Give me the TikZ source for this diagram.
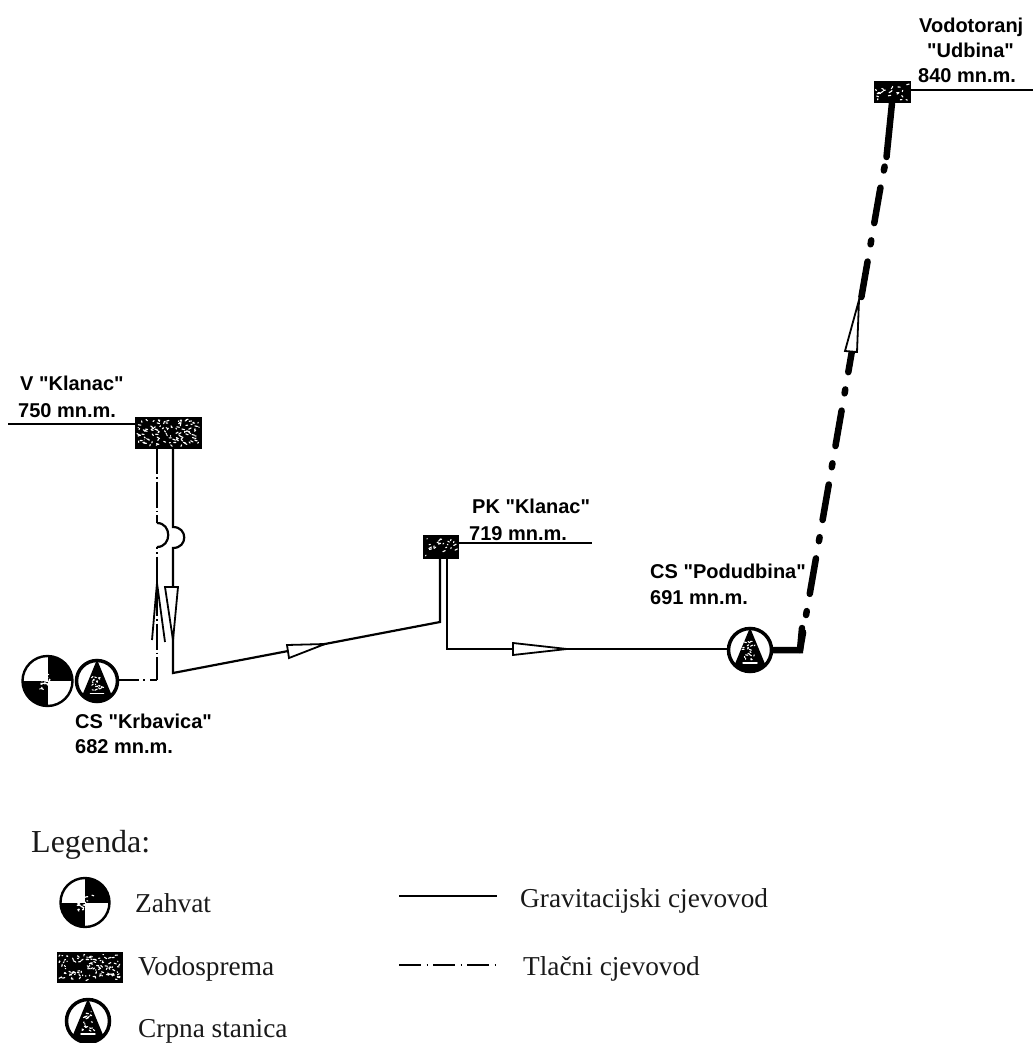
\documentclass[tikz,border=0pt]{standalone}
\usepackage{fontspec}
\setmainfont{Liberation Serif}
\newfontfamily\labfont{Liberation Sans}
\pgfmathsetseed{4242}
% white flecks scattered in a w x h area centred on the origin
\newcommand{\flecks}[3]{%
  \foreach \fidx in {1,...,#3}{%
    \pgfmathsetmacro\fxx{rand*(#1)/2}%
    \pgfmathsetmacro\fyy{rand*(#2)/2}%
    \pgfmathsetmacro\fuu{rand*2.6}%
    \pgfmathsetmacro\fvv{rand*1.6}%
    \draw[white,line width=1.1pt,line cap=round] (\fxx,\fyy) -- ++(\fuu,\fvv);
  }}
\tikzset{
  lab/.style={font=\labfont\bfseries\fontsize{20}{24}\selectfont,anchor=base west,inner sep=0pt},
  leg/.style={font=\fontsize{27.3}{32}\selectfont,anchor=base west,inner sep=0pt,text=black!90},
  pipe/.style={draw=black,line width=2.2pt,line join=miter},
  press/.style={draw=black,line width=2.2pt,dash pattern=on 26pt off 3pt on 1.5pt off 3pt},
  thickpipe/.style={draw=black,line width=6.5pt,line cap=round},
  thickdash/.style={thickpipe,dash pattern=on 36pt off 17.5pt on 4pt off 17.5pt},
  level/.style={draw=black,line width=1.6pt},
  flow/.style={draw=black,line width=1.8pt,fill=white,line join=miter},
  tank/.style n args={3}{rectangle,fill=black,draw=black,line width=1pt,inner sep=0pt,
    minimum width=#1pt,minimum height=#2pt,path picture={
      \begin{scope}[shift={(path picture bounding box.center)}]
        \flecks{#1-4}{#2-5}{#3}
      \end{scope}}},
  pump/.style={circle,draw=black,line width=3.5pt,fill=white,inner sep=0pt,minimum size=#1 pt,
    path picture={
      \begin{scope}[shift={(path picture bounding box.center)},x=#1pt/44,y=-#1pt/44]
        \fill[black] (0,-23) -- (-19,23) -- (19,23) -- cycle;
        \fill[black] (-23,13) rectangle (23,23);
        \begin{scope}[shift={(1,-1)}] \flecks{12}{20}{20} \end{scope}
        \draw[white,line width=1.8pt,line cap=round] (-7,13.5) -- (7,13.5);
      \end{scope}}},
  intake/.style={circle,draw=black,line width=2.4pt,fill=white,inner sep=0pt,minimum size=#1 pt,
    path picture={
      \begin{scope}[shift={(path picture bounding box.center)},x=#1pt/50,y=-#1pt/50]
        \fill[black] (0,0) rectangle (26,-26);
        \fill[black] (0,0) rectangle (-26,26);
        \begin{scope}[shift={(12,-12)}] \flecks{16}{16}{16} \end{scope}
        \begin{scope}[shift={(-12,12)}] \flecks{16}{16}{16} \end{scope}
      \end{scope}}},
}
\begin{document}
\begin{tikzpicture}[x=1pt,y=-1pt]
\useasboundingbox (0,0) rectangle (1033,1043);
\fill[white] (0,0) rectangle (1033,1043);

% tanks
\node[tank={66}{31}{110}] (vk) at (168,432.5) {};
\node[tank={35}{23}{22}] (pk) at (440.5,546.5) {};
\node[tank={36}{21}{22}] (vu) at (892,92.5) {};

% stations
\node[intake=50] (zk) at (47.5,681) {};
\node[pump=41] (csk) at (97,681) {};
\node[pump=43] (csp) at (750,650) {};

% level lines
\coordinate (lv) at (8,424);
\coordinate (lp) at (592,543);
\coordinate (lu) at (1033,90);
\draw[level] (lv) -- (lv-|vk.west);
\draw[level] (pk.east|-lp) -- (lp);
\draw[level] (vu.east|-lu) -- (lu);

% pipes Krbavica - Klanac
\coordinate (a1) at (157,448);
\coordinate (a2) at (157,523);
\coordinate (a3) at (157,547);
\coordinate (a4) at (157,680);
\coordinate (b1) at (173,448);
\coordinate (b2) at (173,527);
\coordinate (b3) at (173,548);
\coordinate (j) at (173,673);
\coordinate (c1) at (440,622);
\coordinate (c2) at (440,558);
\coordinate (d1) at (447,558);
\coordinate (d2) at (447,649);

\draw[press] (a1) -- (a2);
\draw[pipe] (a2) .. controls (172,523) and (172,547) .. (a3);
\draw[press,dash phase=24pt] (a3) -- (a4);
\draw[press,dash pattern=on 20pt off 4pt on 2pt off 5pt] (csk.east|-a4) -- (a4);

\draw[pipe] (b1) -- (b2) .. controls (188,527) and (188,548) .. (b3) -- (j) -- (c1) -- (c2);
\draw[pipe] (d1) -- (d2) -- (csp.west|-d2);

% flow arrows
\draw[draw=black,line width=1.8pt] (152,640) -- (157,583) -- (165,642);
\draw[flow] (165,587) -- (178,587) -- (173,640) -- cycle;
\draw[flow] (287,645) -- (325,644) -- (289,658) -- cycle;
\draw[flow] (513,643) -- (567,649) -- (513,655) -- cycle;

% pressure main Podudbina - Udbina
\coordinate (e) at (800,650);
\coordinate (m) at (853,345);
\coordinate (n) at (861.4,297);
\coordinate (f) at (880,190);
\coordinate (g) at (886.5,157);
\coordinate (h) at (892,103);
\draw[thickpipe] (csp.east) -- (e) -- (802,628);
\draw[thickdash,dash phase=18pt] (e) -- (m);
\draw[thickdash] (n) -- (f) -- (g);
\draw[thickpipe] (g) -- (h);
\draw[flow] (859,300) -- (845,351) -- (857,352) -- cycle;

% labels
\node[lab] (t1) at (20,390) {V "Klanac"};
\node[lab] (t2) at (18,417) {750 mn.m.};
\node[lab] (t3) at (75,728) {CS "Krbavica"};
\node[lab] (t4) at (75,753) {682 mn.m.};
\node[lab] (t5) at (472,513) {PK "Klanac"};
\node[lab] (t6) at (469,540) {719 mn.m.};
\node[lab] (t7) at (650,578) {CS "Podudbina"};
\node[lab] (t8) at (650,604) {691 mn.m.};
\node[lab] (t9) at (919,33) {Vodotoranj};
\node[lab] (t10) at (927,58) {"Udbina"};
\node[lab] (t11) at (918,83) {840 mn.m.};

% legend
\node[font=\fontsize{32}{38}\selectfont,anchor=base west,inner sep=0pt,text=black!90] (lg) at (31,852) {Legenda:};
\node[intake=49] (lz) at (85,902.5) {};
\node[tank={65}{30}{110}] (lv2) at (89.5,967) {};
\node[pump=43] (lc) at (88,1021) {};
\node[leg] (l1) at (135,912) {Zahvat};
\node[leg] (l2) at (138,975) {Vodosprema};
\node[leg] (l3) at (138,1037) {Crpna stanica};
\coordinate (s1) at (399,896);
\coordinate (s2) at (497,896);
\coordinate (s3) at (399,965);
\coordinate (s4) at (496,965);
\draw[draw=black,line width=2.4pt] (s1) -- (s2);
\draw[draw=black,line width=2.4pt,dash pattern=on 22pt off 5.5pt on 1.5pt off 5pt] (s3) -- (s4);
\node[leg] (l4) at (520,907) {Gravitacijski cjevovod};
\node[leg] (l5) at (523,975) {Tlačni cjevovod};
\end{tikzpicture}
\end{document}
